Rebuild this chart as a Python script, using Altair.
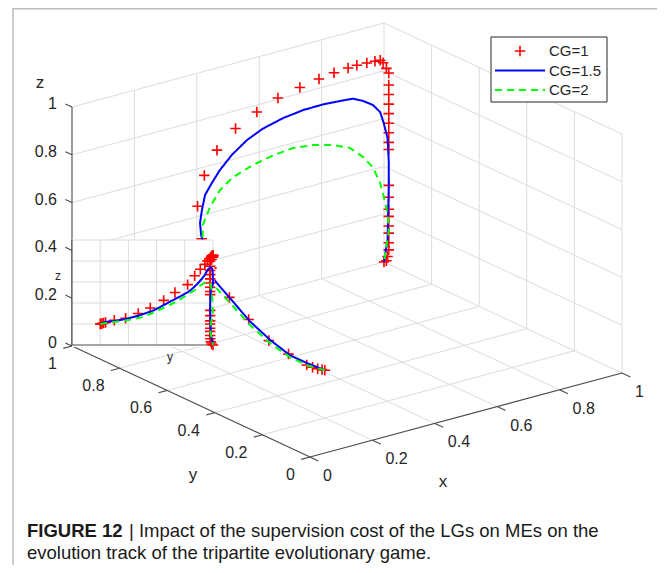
import altair as alt
import pandas as pd

# ---------------- data ----------------
TICKS = [0.0, 0.2, 0.4, 0.6, 0.8, 1.0]
TICK_LABELS = ["0", "0.2", "0.4", "0.6", "0.8", "1"]
SERIES = ["CG=1", "CG=1.5", "CG=2"]
SERIES_COLORS = ["#ff0000", "#0000ff", "#00ff00"]

CG1_X = [0.200, 0.195, 0.187, 0.179, 0.171, 0.160, 0.158, 0.162, 0.165, 0.180,
         0.210, 0.265, 0.325, 0.396, 0.480, 0.562, 0.641, 0.719, 0.784, 0.836,
         0.885, 0.913, 0.945, 0.971, 0.988, 0.997, 1.000,
         1.0, 1.0, 1.0, 1.0, 1.0, 1.0, 1.0, 1.0, 1.0, 1.0,
         1.0, 1.0, 1.0, 1.0, 1.0, 1.0, 1.0, 1.0, 1.0, 1.0]
CG1_Y = [0.200, 0.205, 0.213, 0.224, 0.238, 0.300, 0.380, 0.470, 0.555, 0.650,
         0.730, 0.820, 0.870, 0.910, 0.942, 0.960, 0.975, 0.985, 0.990, 0.995,
         1.000, 1.000, 1.000, 1.000, 1.000, 1.000, 0.990,
         0.98, 0.98, 0.98, 0.98, 0.98, 0.98, 0.98, 0.98, 0.98, 0.98,
         0.98, 0.98, 0.98, 0.98, 0.98, 0.98, 0.98, 0.985, 0.99, 1.0]
CG1_Z = [0.200, 0.202, 0.205, 0.209, 0.214, 0.235, 0.255, 0.300, 0.352, 0.425,
         0.500, 0.575, 0.660, 0.722, 0.768, 0.800, 0.824, 0.836, 0.846, 0.852,
         0.852, 0.854, 0.852, 0.850, 0.848, 0.835, 0.815,
         0.80, 0.75, 0.71, 0.67, 0.63, 0.59, 0.55, 0.51, 0.48, 0.33,
         0.28, 0.23, 0.20, 0.16, 0.13, 0.09, 0.06, 0.03, 0.01, 0.0]

CG15_X = [0.200, 0.173, 0.165, 0.169, 0.174, 0.186, 0.185, 0.220, 0.250, 0.273,
          0.302, 0.335, 0.372, 0.413, 0.467, 0.527, 0.585, 0.657, 0.727, 0.795,
          0.853, 0.897, 0.930, 0.963, 0.987, 0.999, 1.000, 1.000, 1.000, 1.000, 1.000]
CG15_Y = [0.200, 0.240, 0.300, 0.390, 0.480, 0.580, 0.650, 0.720, 0.785, 0.820,
          0.850, 0.880, 0.900, 0.920, 0.940, 0.955, 0.965, 0.975, 0.982, 0.988,
          0.992, 0.995, 0.997, 0.998, 0.999, 1.000, 0.985, 0.980, 0.980, 0.985, 1.000]
CG15_Z = [0.200, 0.221, 0.228, 0.250, 0.283, 0.330, 0.380, 0.430, 0.475, 0.502,
          0.532, 0.570, 0.598, 0.628, 0.664, 0.698, 0.720, 0.734, 0.740, 0.737,
          0.729, 0.722, 0.700, 0.671, 0.632, 0.582, 0.525, 0.430, 0.330, 0.100, 0.000]

CG2_X = [0.200, 0.175, 0.165, 0.169, 0.181, 0.186, 0.185, 0.220, 0.250, 0.286,
         0.343, 0.398, 0.459, 0.538, 0.614, 0.687, 0.757, 0.826, 0.883, 0.927,
         0.961, 0.985, 0.998, 1.000, 1.000, 1.000]
CG2_Y = [0.200, 0.240, 0.300, 0.390, 0.490, 0.580, 0.650, 0.720, 0.780, 0.825,
         0.870, 0.900, 0.925, 0.945, 0.960, 0.972, 0.980, 0.986, 0.990, 0.993,
         0.995, 0.997, 0.998, 0.985, 0.980, 1.000]
CG2_Z = [0.200, 0.210, 0.220, 0.236, 0.262, 0.310, 0.355, 0.400, 0.445, 0.488,
         0.521, 0.559, 0.580, 0.594, 0.600, 0.600, 0.584, 0.557, 0.523, 0.469,
         0.411, 0.338, 0.274, 0.209, 0.140, 0.000]

CAPTION_BOLD = "FIGURE 12"
CAPTION_1 = "| Impact of the supervision cost of the LGs on MEs on the"
CAPTION_2 = "evolution track of the tripartite evolutionary game."

# ---------------- projection / layout parameters ----------------
W, H = 649, 557
ORG = (310, 457)          # screen position of (0,0,0)
EX = (312, -84)           # screen vector of unit x
EY = (-238, -111)         # screen vector of unit y
EZ = (0, -239)            # screen vector of unit z
IN_ORG = (72, 345)        # inset: screen position of (y=0, z=0)
IN_EY = 141
IN_EZ = -105
FONT = "Liberation Sans"
GRID = "#dcdcdc"
AXC = "#4a4a4a"
TXT = "#262626"
CAP_SIZE = 18.5


def pxe(a, b, c):
    return f"{ORG[0]} + {EX[0]}*datum.{a} + {EY[0]}*datum.{b} + {EZ[0]}*datum.{c}"


def pye(a, b, c):
    return f"{ORG[1]} + {EX[1]}*datum.{a} + {EY[1]}*datum.{b} + {EZ[1]}*datum.{c}"


def ipx(b):
    return f"{IN_ORG[0]} + {IN_EY}*datum.{b}"


def ipy(c):
    return f"{IN_ORG[1]} + {IN_EZ}*datum.{c}"


XS = alt.Scale(domain=[8, 8 + W], nice=False, zero=False)
YS = alt.Scale(domain=[8, 8 + H], nice=False, zero=False, reverse=True)


def X(f):
    return alt.X(f"{f}:Q", scale=XS, axis=None)


def Y(f):
    return alt.Y(f"{f}:Q", scale=YS, axis=None)


# trajectories
rows = []
for name, xs, ys, zs in [("CG=1", CG1_X, CG1_Y, CG1_Z),
                         ("CG=1.5", CG15_X, CG15_Y, CG15_Z),
                         ("CG=2", CG2_X, CG2_Y, CG2_Z)]:
    for i, (a, b, c) in enumerate(zip(xs, ys, zs)):
        rows.append({"series": name, "i": i, "x": a, "y": b, "z": c})
traj = pd.DataFrame(rows)

# grid segments of the 3-D box
seg = []
for t in TICKS[1:]:
    seg.append((t, 0, 0, t, 1, 0))        # floor, along y
    seg.append((0, t, 0, 1, t, 0))        # floor, along x
    seg.append((t, 1, 0, t, 1, 1))        # back wall y=1 verticals
    seg.append((0, 1, t, 1, 1, t))        # back wall y=1 horizontals
    seg.append((1, 0, t, 1, 1, t))        # side wall x=1 horizontals
for t in TICKS[:-1]:
    seg.append((1, t, 0, 1, t, 1))        # side wall x=1 verticals
grid_df = pd.DataFrame(seg, columns=["x0", "y0", "z0", "x1", "y1", "z1"])

axes_df = pd.DataFrame([(0, 0, 0, 1, 0, 0), (0, 0, 0, 0, 1, 0), (0, 1, 0, 0, 1, 1)],
                       columns=["x0", "y0", "z0", "x1", "y1", "z1"])
tick_seg = []
for t in TICKS:
    tick_seg.append((t, 0, 0, t, -0.035, 0))
    tick_seg.append((0, t, 0, -0.028, t, 0))
    tick_seg.append((0, 1, t, 0, 1.028, t))
ticks_df = pd.DataFrame(tick_seg, columns=["x0", "y0", "z0", "x1", "y1", "z1"])

lab_df = pd.DataFrame({"t": TICKS, "label": TICK_LABELS, "zero": [0.0] * 6, "one": [1.0] * 6})


def seg_layer(df, color, width):
    return alt.Chart(df).transform_calculate(
        sx=pxe("x0", "y0", "z0"), sy=pye("x0", "y0", "z0"),
        ex=pxe("x1", "y1", "z1"), ey=pye("x1", "y1", "z1"),
    ).mark_rule(color=color, strokeWidth=width).encode(
        x=X("sx"), y=Y("sy"), x2=alt.X2("ex:Q"), y2=alt.Y2("ey:Q"))


grid_layer = seg_layer(grid_df, GRID, 1)
axes_layer = seg_layer(axes_df, AXC, 1.1)
ticks_layer = seg_layer(ticks_df, AXC, 1.1)

xlab = alt.Chart(lab_df).transform_calculate(
    sx=pxe("t", "zero", "zero"), sy=pye("t", "zero", "zero")
).mark_text(align="left", baseline="middle", dx=13, dy=19, font=FONT, fontSize=16, color=TXT
            ).encode(x=X("sx"), y=Y("sy"), text="label:N")
ylab = alt.Chart(lab_df).transform_calculate(
    sx=pxe("zero", "t", "zero"), sy=pye("zero", "t", "zero")
).mark_text(align="right", baseline="middle", dx=-15, dy=18, font=FONT, fontSize=16, color=TXT
            ).encode(x=X("sx"), y=Y("sy"), text="label:N")
zlab = alt.Chart(lab_df).transform_calculate(
    sx=pxe("zero", "one", "t"), sy=pye("zero", "one", "t")
).mark_text(align="right", baseline="middle", dx=-15, dy=-3, font=FONT, fontSize=16, color=TXT
            ).encode(x=X("sx"), y=Y("sy"), text="label:N")

one = pd.DataFrame({"a": [0]})
titles = alt.layer(
    alt.Chart(one).mark_text(text="x", font=FONT, fontSize=17, color=TXT).encode(
        x=alt.value(443 - 8), y=alt.value(482 - 8)),
    alt.Chart(one).mark_text(text="y", font=FONT, fontSize=17, color=TXT).encode(
        x=alt.value(193 - 8), y=alt.value(475 - 8)),
    alt.Chart(one).mark_text(text="z", font=FONT, fontSize=17, color=TXT).encode(
        x=alt.value(40 - 8), y=alt.value(83 - 8)),
)

CROSS = "M-1,0L1,0M0,-1L0,1"


def main_data(name, kind):
    base = alt.Chart(traj).transform_filter(alt.datum.series == name).transform_calculate(
        sx=pxe("x", "y", "z"), sy=pye("x", "y", "z"))
    col = SERIES_COLORS[SERIES.index(name)]
    if kind == "cross":
        return base.mark_point(shape=CROSS, size=110, filled=False, strokeWidth=1.6, color=col,
                               opacity=1).encode(x=X("sx"), y=Y("sy"))
    dash = [7, 5] if kind == "dash" else [1, 0]
    return base.mark_line(color=col, strokeWidth=2, strokeDash=dash).encode(
        x=X("sx"), y=Y("sy"), order="i:Q")


def inset_data(name, kind):
    base = alt.Chart(traj).transform_filter(alt.datum.series == name).transform_calculate(
        sx=ipx("y"), sy=ipy("z"))
    col = SERIES_COLORS[SERIES.index(name)]
    if kind == "cross":
        return base.mark_point(shape=CROSS, size=110, filled=False, strokeWidth=1.6, color=col,
                               opacity=1).encode(x=X("sx"), y=Y("sy"))
    dash = [7, 5] if kind == "dash" else [1, 0]
    return base.mark_line(color=col, strokeWidth=2, strokeDash=dash).encode(
        x=X("sx"), y=Y("sy"), order="i:Q")


# inset
inset_bg_df = pd.DataFrame({"y0": [0.0], "z0": [-0.02], "y1": [1.01], "z1": [1.0]})
inset_bg = alt.Chart(inset_bg_df).transform_calculate(
    sx=ipx("y0"), sy=ipy("z0"), ex=ipx("y1"), ey=ipy("z1")
).mark_rect(color="white").encode(x=X("sx"), y=Y("sy"), x2=alt.X2("ex:Q"), y2=alt.Y2("ey:Q"))

iseg = []
for t in TICKS[1:]:
    iseg.append((t, 0, t, 1))
    iseg.append((0, t, 1, t))
inset_grid_df = pd.DataFrame(iseg, columns=["y0", "z0", "y1", "z1"])
inset_axes_df = pd.DataFrame([(0, 0, 1, 0), (0, 0, 0, 1)], columns=["y0", "z0", "y1", "z1"])


def iseg_layer(df, color, width):
    return alt.Chart(df).transform_calculate(
        sx=ipx("y0"), sy=ipy("z0"), ex=ipx("y1"), ey=ipy("z1")
    ).mark_rule(color=color, strokeWidth=width).encode(
        x=X("sx"), y=Y("sy"), x2=alt.X2("ex:Q"), y2=alt.Y2("ey:Q"))


inset_titles = alt.layer(
    alt.Chart(one).mark_text(text="z", font=FONT, fontSize=12, color=TXT).encode(
        x=alt.value(58 - 8), y=alt.value(276 - 8)),
    alt.Chart(one).mark_text(text="y", font=FONT, fontSize=12, color=TXT).encode(
        x=alt.value(170 - 8), y=alt.value(357 - 8)),
)

# legend
leg_df = pd.DataFrame({"label": SERIES, "row": [0, 1, 2]})
LEG_Y0, LEG_DY = 51, 19.5
leg_box = alt.Chart(one).mark_rect(fill="white", stroke="#262626", strokeWidth=1).encode(
    x=alt.value(491 - 8), x2=alt.value(607 - 8), y=alt.value(37 - 8), y2=alt.value(102 - 8))
leg_base = alt.Chart(leg_df).transform_calculate(ly=f"{LEG_Y0} + {LEG_DY}*datum.row")
leg_text = leg_base.mark_text(align="left", baseline="middle", font=FONT, fontSize=15, color=TXT).encode(
    x=alt.value(549 - 8), y=Y("ly"), text="label:N")
leg_cross = leg_base.transform_filter(alt.datum.row == 0).mark_point(
    shape=CROSS, size=110, filled=False, strokeWidth=1.6, color=SERIES_COLORS[0], opacity=1
).encode(x=alt.value(520 - 8), y=Y("ly"))
leg_blue = leg_base.transform_filter(alt.datum.row == 1).mark_rule(
    color=SERIES_COLORS[1], strokeWidth=2).encode(x=alt.value(495 - 8), x2=alt.value(545 - 8), y=Y("ly"))
leg_green = leg_base.transform_filter(alt.datum.row == 2).mark_rule(
    color=SERIES_COLORS[2], strokeWidth=2, strokeDash=[7, 5]).encode(
    x=alt.value(495 - 8), x2=alt.value(545 - 8), y=Y("ly"))

# caption & frame
caption = alt.layer(
    alt.Chart(one).mark_text(text=CAPTION_BOLD, align="left", baseline="middle", font=FONT,
                             fontSize=CAP_SIZE, fontWeight="bold", color="#1a1a1a").encode(
        x=alt.value(27 - 8), y=alt.value(531 - 8)),
    alt.Chart(one).mark_text(text=CAPTION_1, align="left", baseline="middle", font=FONT,
                             fontSize=CAP_SIZE, color="#1a1a1a").encode(
        x=alt.value(129 - 8), y=alt.value(531 - 8)),
    alt.Chart(one).mark_text(text=CAPTION_2, align="left", baseline="middle", font=FONT,
                             fontSize=CAP_SIZE, color="#1a1a1a").encode(
        x=alt.value(27 - 8), y=alt.value(553 - 8)),
)
frame = alt.Chart(one).mark_rect(fill="white", fillOpacity=0, stroke="#bdbdbd", strokeWidth=1.5).encode(
    x=alt.value(13 - 8), x2=alt.value(662 - 8), y=alt.value(0.8), y2=alt.value(H + 20))

chart = alt.layer(
    grid_layer, axes_layer, ticks_layer, xlab, ylab, zlab, titles,
    main_data("CG=1", "cross"), main_data("CG=1.5", "line"), main_data("CG=2", "dash"),
    inset_bg, iseg_layer(inset_grid_df, GRID, 1), iseg_layer(inset_axes_df, AXC, 1.1),
    inset_data("CG=1", "cross"), inset_data("CG=1.5", "line"), inset_data("CG=2", "dash"),
    inset_titles,
    leg_box, leg_text, leg_cross, leg_blue, leg_green,
    caption, frame,
).properties(
    width=W, height=H, padding=0, autosize=alt.AutoSizeParams(type="none")
).configure_view(stroke=None)

chart.save("out.html", embed_options={"renderer": "svg", "actions": False})
